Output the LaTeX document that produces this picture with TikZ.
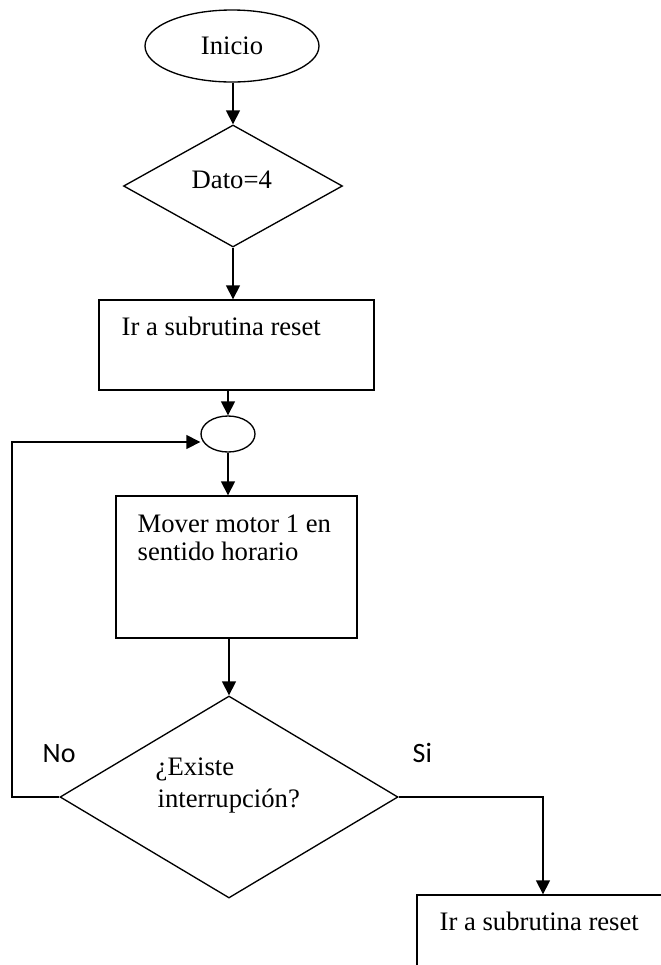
\documentclass[tikz,border=0pt]{standalone}
\usepackage{fontspec}
\setmainfont{Liberation Serif}
\newfontfamily\labelfont{Carlito}
\usetikzlibrary{shapes.geometric,arrows.meta}

\begin{document}
\begin{tikzpicture}[x=0.75pt,y=-0.75pt,
  line width=1pt,
  every node/.style={font=\fontsize{20}{24}\selectfont},
  flowline/.style={draw, -{Triangle[length=10.5pt,width=10.5pt]}},
  terminal/.style={draw, ellipse, inner sep=0pt},
  decision/.style={draw, diamond, inner sep=0pt},
  process/.style={draw, rectangle, inner sep=0pt},
  txt/.style={anchor=base west, inner sep=0pt},
  branch/.style={anchor=base west, inner sep=0pt, font=\labelfont\fontsize{21}{24}\selectfont}]

\useasboundingbox (0,0) rectangle (661,965);
\clip (0,0) rectangle (661,965);

% start
\node[terminal, minimum width=130.5pt, minimum height=54pt] (inicio) at (232,46) {Inicio};

% first test
\node[decision, minimum width=164.25pt, minimum height=91.5pt] (dato) at (233,186) {};
\node[txt] (datot) at (191,188) {Dato=4};

% reset call
\node[process, minimum width=206.25pt, minimum height=67.5pt] (reset1) at (236.5,345) {};
\node[txt] (reset1t) at (121,335) {Ir a subrutina reset};

% loop junction
\node[terminal, minimum width=40.5pt, minimum height=27pt] (junta) at (228,434) {};

% motor step
\node[process, minimum width=180.75pt, minimum height=106.5pt] (motor) at (236.5,567) {};
\node[txt] (motort1) at (137,532) {Mover motor 1 en};
\node[txt] (motort2) at (137,560) {sentido horario};

% interrupt test
\node[decision, minimum width=253.5pt, minimum height=151.5pt] (intr) at (229,797) {};
\node[txt] (intrt1) at (155,775) {¿Existe};
\node[txt] (intrt2) at (157,807) {interrupción?};

% second reset call
\node[process, minimum width=189pt, minimum height=75pt] (reset2) at (543,945) {};
\node[txt] (reset2t) at (439,930) {Ir a subrutina reset};

% branch labels
\node[branch] (no) at (42,762) {No};
\node[branch] (si) at (412,762) {Si};

\coordinate (retorno) at (12,442);

% connectors
\draw[flowline] (dato.north |- inicio.south) -- (dato.north);
\draw[flowline] (dato.south) -- (dato.south |- reset1.north);
\draw[flowline] (junta.north |- reset1.south) -- (junta.north);
\draw[flowline] (junta.south) -- (junta.south |- motor.north);
\draw[flowline] (intr.north |- motor.south) -- (intr.north);
\draw[flowline] (intr.west) -| (retorno) -- (junta.west |- retorno);
\draw[flowline] (intr.east) -| (reset2.north);
\end{tikzpicture}
\end{document}
